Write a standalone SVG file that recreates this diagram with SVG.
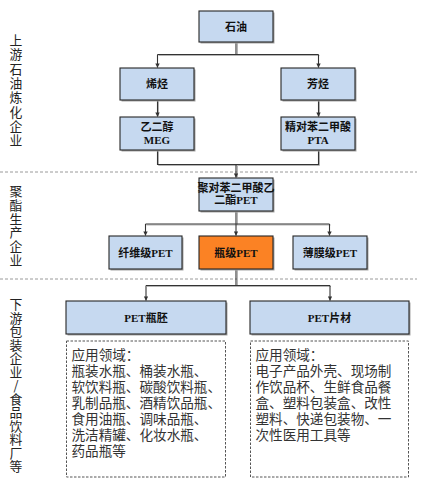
<svg xmlns="http://www.w3.org/2000/svg" width="422" height="479" viewBox="0 0 422 479">
<style>
.bg{fill:#ffffff}
.box{stroke:#262626;stroke-width:1.1}
.blue{fill:#c6d9f0}
.orange{fill:#fb8224}
.shadow{fill:#a6a6a6}
.lbl{font-family:"Liberation Serif","Noto Sans CJK SC",serif;font-weight:bold;font-size:11px;fill:#111;text-anchor:middle}
.side{font-family:"Noto Sans CJK SC",sans-serif;font-size:12.8px;fill:#222;text-anchor:middle}
.body{font-family:"Noto Sans CJK SC",sans-serif;font-size:13.6px;fill:#333}
.sep{stroke:#9a9a9a;stroke-width:1;stroke-dasharray:3,2;fill:none}
.dash{fill:#ffffff;stroke:#555;stroke-width:1;stroke-dasharray:2.5,1.5}
.con{stroke:#333;stroke-width:1.1;fill:none}
.conS{stroke:#b5b5b5;stroke-width:1;fill:none}
</style>
<defs>
<marker id="ah" viewBox="0 0 6 6" refX="5.5" refY="3" markerWidth="4" markerHeight="4" orient="auto">
<path d="M0,0 L6,3 L0,6 Z" fill="#333"/>
</marker>
</defs>
<rect class="bg" x="0" y="0" width="422" height="479"/>

<g id="separators">
<line class="sep" x1="0" y1="172" x2="417" y2="172"/>
<line class="sep" x1="0" y1="279" x2="417" y2="279"/>
</g>

<g id="side-labels">
<text class="side" id="sec1"><tspan x="16" y="45">上</tspan><tspan x="16" y="59.3">游</tspan><tspan x="16" y="73.6">石</tspan><tspan x="16" y="87.9">油</tspan><tspan x="16" y="102.2">炼</tspan><tspan x="16" y="116.5">化</tspan><tspan x="16" y="130.8">企</tspan><tspan x="16" y="145.1">业</tspan></text>
<text class="side" id="sec2"><tspan x="16" y="196">聚</tspan><tspan x="16" y="209.8">酯</tspan><tspan x="16" y="223.6">生</tspan><tspan x="16" y="237.4">产</tspan><tspan x="16" y="251.2">企</tspan><tspan x="16" y="265">业</tspan></text>
<text class="side" id="sec3" font-size="12.5"><tspan x="16" y="309">下</tspan><tspan x="16" y="322.5">游</tspan><tspan x="16" y="336">包</tspan><tspan x="16" y="349.5">装</tspan><tspan x="16" y="363">企</tspan><tspan x="16" y="376.5">业</tspan><tspan x="16" y="390">/</tspan><tspan x="16" y="403.5">食</tspan><tspan x="16" y="417">品</tspan><tspan x="16" y="430.5">饮</tspan><tspan x="16" y="444">料</tspan><tspan x="16" y="457.5">厂</tspan><tspan x="16" y="471">等</tspan></text>
</g>

<g id="connectors">
<path class="conS" d="M237.5,43 V55.5 M158.5,55.5 H319.5 M158.5,101 V116 M319.5,101 V116 M158.5,151 V165.5 H319.5 V151 M237.5,165.5 V177 M237.5,212 V225 M146.5,225 H330.5 M237.5,270 V286.5 M147,286.5 H331"/>
<path class="con" d="M236,42 V54.5 M157.5,54.5 H318.5"/>
<path class="con" d="M157.5,54.5 V67.5" marker-end="url(#ah)"/>
<path class="con" d="M318.5,54.5 V67.5" marker-end="url(#ah)"/>
<path class="con" d="M157.5,100 V116.5" marker-end="url(#ah)"/>
<path class="con" d="M318.5,100 V116.5" marker-end="url(#ah)"/>
<path class="con" d="M157.5,150 V164.5 H318.5 V150"/>
<path class="con" d="M236,164.5 V177.5" marker-end="url(#ah)"/>
<path class="con" d="M236,211 V224 M145.5,224 H329.5"/>
<path class="con" d="M145.5,224 V235.5" marker-end="url(#ah)"/>
<path class="con" d="M236,224 V235.5" marker-end="url(#ah)"/>
<path class="con" d="M329.5,224 V235.5" marker-end="url(#ah)"/>
<path class="con" d="M236,269 V285.5 M146,285.5 H330"/>
<path class="con" d="M146,285.5 V300.5" marker-end="url(#ah)"/>
<path class="con" d="M330,285.5 V300.5" marker-end="url(#ah)"/>
</g>

<g id="n-oil">
<rect class="shadow" x="200.5" y="12.5" width="74" height="31"/>
<rect class="box blue" x="199" y="11" width="74" height="31"/>
<text class="lbl" x="236" y="30.5">石油</text>
</g>
<g id="n-olefin">
<rect class="shadow" x="121.5" y="69.5" width="74" height="32"/>
<rect class="box blue" x="120" y="68" width="74" height="32"/>
<text class="lbl" x="157" y="88">烯烃</text>
</g>
<g id="n-aromatic">
<rect class="shadow" x="282.5" y="69.5" width="74" height="32"/>
<rect class="box blue" x="281" y="68" width="74" height="32"/>
<text class="lbl" x="318" y="88">芳烃</text>
</g>
<g id="n-meg">
<rect class="shadow" x="121.5" y="118.5" width="74" height="33"/>
<rect class="box blue" x="120" y="117" width="74" height="33"/>
<text class="lbl" x="157" y="130.5">乙二醇</text>
<text class="lbl" x="157" y="144">MEG</text>
</g>
<g id="n-pta">
<rect class="shadow" x="282.5" y="118.5" width="74" height="33"/>
<rect class="box blue" x="281" y="117" width="74" height="33"/>
<text class="lbl" x="318" y="130.5">精对苯二甲酸</text>
<text class="lbl" x="318" y="144">PTA</text>
</g>
<g id="n-pet">
<rect class="shadow" x="200.5" y="179.5" width="74" height="33"/>
<rect class="box blue" x="199" y="178" width="74" height="33"/>
<text class="lbl" x="236" y="192" font-weight="normal">聚对苯二甲酸乙</text>
<text class="lbl" x="236" y="204" font-weight="normal">二酯PET</text>
</g>
<g id="n-fiber">
<rect class="shadow" x="110.5" y="237.5" width="73" height="33"/>
<rect class="box blue" x="109" y="236" width="73" height="33"/>
<text class="lbl" x="145.5" y="257">纤维级PET</text>
</g>
<g id="n-bottle">
<rect class="shadow" x="200.5" y="237.5" width="74" height="33"/>
<rect class="box orange" x="199" y="236" width="74" height="33"/>
<text class="lbl" x="236" y="257">瓶级PET</text>
</g>
<g id="n-film">
<rect class="shadow" x="294.5" y="237.5" width="74" height="33"/>
<rect class="box blue" x="293" y="236" width="74" height="33"/>
<text class="lbl" x="330" y="257">薄膜级PET</text>
</g>
<g id="n-preform">
<rect class="shadow" x="67.5" y="302.5" width="160" height="33"/>
<rect class="box blue" x="66" y="301" width="160" height="33"/>
<text class="lbl" x="146" y="322">PET瓶胚</text>
</g>
<g id="n-sheet">
<rect class="shadow" x="251.5" y="302.5" width="159" height="33"/>
<rect class="box blue" x="250" y="301" width="159" height="33"/>
<text class="lbl" x="329.5" y="322">PET片材</text>
</g>
<g id="n-preform-apps">
<rect class="dash" x="66.5" y="341" width="159" height="136"/>
<text class="body"><tspan x="71.5" y="360">应用领域：</tspan><tspan x="71.5" y="376">瓶装水瓶、桶装水瓶、</tspan><tspan x="71.5" y="392">软饮料瓶、碳酸饮料瓶、</tspan><tspan x="71.5" y="407.5">乳制品瓶、酒精饮品瓶、</tspan><tspan x="71.5" y="423.5">食用油瓶、调味品瓶、</tspan><tspan x="71.5" y="440">洗洁精罐、化妆水瓶、</tspan><tspan x="71.5" y="456">药品瓶等</tspan></text>
</g>
<g id="n-sheet-apps">
<rect class="dash" x="250.5" y="341" width="158" height="136"/>
<text class="body"><tspan x="255.5" y="360">应用领域：</tspan><tspan x="255.5" y="376">电子产品外壳、现场制</tspan><tspan x="255.5" y="392">作饮品杯、生鲜食品餐</tspan><tspan x="255.5" y="407.5">盒、塑料包装盒、改性</tspan><tspan x="255.5" y="423.5">塑料、快递包装物、一</tspan><tspan x="255.5" y="440">次性医用工具等</tspan></text>
</g>
</svg>
